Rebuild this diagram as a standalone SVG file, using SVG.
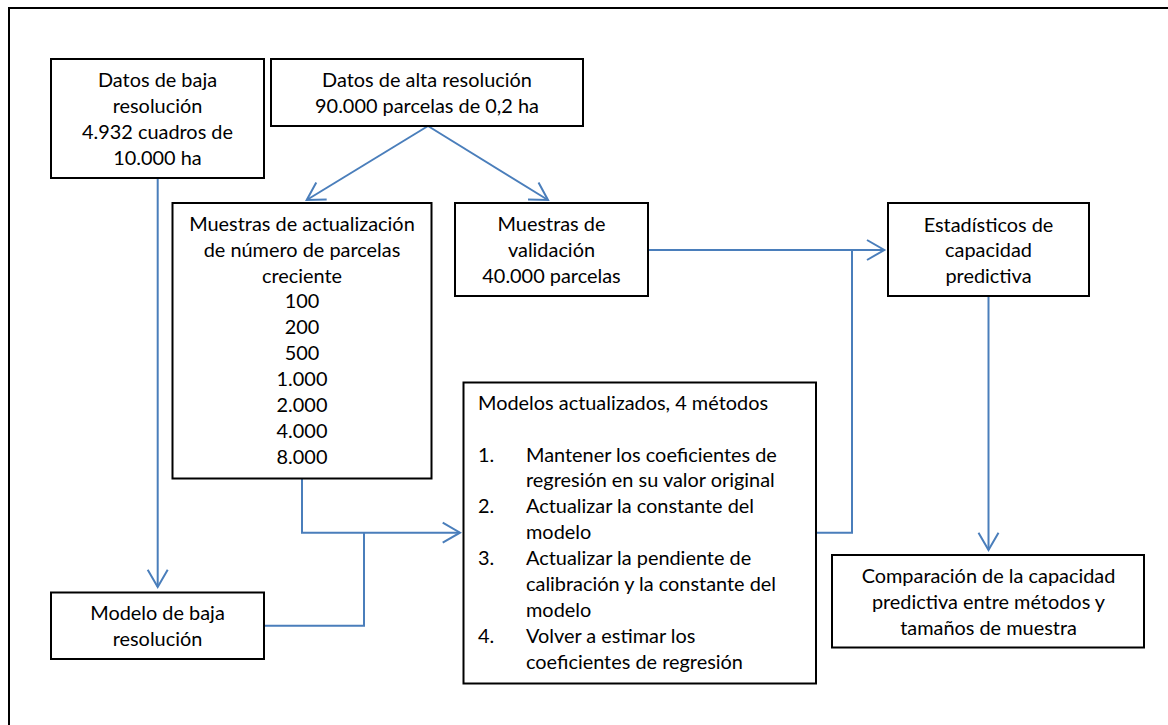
<svg xmlns="http://www.w3.org/2000/svg" width="1168" height="725" viewBox="0 0 1168 725">
<defs>
<style>
.box{fill:#ffffff;stroke:#000000;stroke-width:2}
.t{font-family:Lato,"Liberation Sans",sans-serif;font-size:19.9px;fill:#000000}
.c{text-anchor:middle}
.ln{fill:none;stroke:#4a7ebb;stroke-width:2}
</style>
<marker id="ah" markerWidth="24" markerHeight="24" viewBox="-20 -12 24 24" refX="0" refY="0" orient="auto" markerUnits="userSpaceOnUse">
<path d="M-17.3,-10 L0,0 L-17.3,10" fill="none" stroke="#4a7ebb" stroke-width="2"/>
</marker>
</defs>
<rect x="0" y="0" width="1168" height="725" fill="#ffffff"/>
<rect id="frame" x="9" y="8" width="1200" height="760" fill="none" stroke="#000000" stroke-width="2"/>

<g id="connectors">
<path class="ln" d="M428,126 L306.7,200" marker-end="url(#ah)"/>
<path class="ln" d="M428,126 L548,200" marker-end="url(#ah)"/>
<path class="ln" d="M157.7,178 L157.7,587" marker-end="url(#ah)"/>
<path class="ln" d="M302,478 L302,532.7 L460,532.7" marker-end="url(#ah)"/>
<path class="ln" d="M264,625.7 L364,625.7 L364,532.7"/>
<path class="ln" d="M648,250 L884.3,250" marker-end="url(#ah)"/>
<path class="ln" d="M816,532.7 L852,532.7 L852,250"/>
<path class="ln" d="M988.5,296 L988.5,550" marker-end="url(#ah)"/>
</g>

<g id="n-baja">
<rect class="box" x="51" y="59" width="213" height="119"/>
<text class="t c" x="157.5" y="87.3">Datos de baja</text>
<text class="t c" x="157.5" y="112.9">resolución</text>
<text class="t c" x="157.5" y="138.5">4.932 cuadros de</text>
<text class="t c" x="157.5" y="164.5">10.000 ha</text>
</g>

<g id="n-alta">
<rect class="box" x="271" y="59" width="312" height="67"/>
<text class="t c" x="427" y="87.3">Datos de alta resolución</text>
<text class="t c" x="427" y="112.9">90.000 parcelas de 0,2 ha</text>
</g>

<g id="n-actualizacion">
<rect class="box" x="172.5" y="203" width="259" height="275.5"/>
<text class="t c" x="302" y="231">Muestras de actualización</text>
<text class="t c" x="302" y="256.8">de número de parcelas</text>
<text class="t c" x="302" y="282.6">creciente</text>
<text class="t c" x="302" y="308.4">100</text>
<text class="t c" x="302" y="334.2">200</text>
<text class="t c" x="302" y="360">500</text>
<text class="t c" x="302" y="385.8">1.000</text>
<text class="t c" x="302" y="411.6">2.000</text>
<text class="t c" x="302" y="438.4">4.000</text>
<text class="t c" x="302" y="464.2">8.000</text>
</g>

<g id="n-validacion">
<rect class="box" x="455" y="203" width="193" height="93"/>
<text class="t c" x="551.5" y="231">Muestras de</text>
<text class="t c" x="551.5" y="256.8">validación</text>
<text class="t c" x="551.5" y="282.6">40.000 parcelas</text>
</g>

<g id="n-estadisticos">
<rect class="box" x="888" y="203" width="201" height="93"/>
<text class="t c" x="988.5" y="231.5">Estadísticos de</text>
<text class="t c" x="988.5" y="257.3">capacidad</text>
<text class="t c" x="988.5" y="283">predictiva</text>
</g>

<g id="n-modelos">
<rect class="box" x="463.5" y="382.5" width="352.5" height="301"/>
<text class="t" x="478" y="410">Modelos actualizados, 4 métodos</text>
<text class="t" x="478" y="461.7">1.</text>
<text class="t" x="526" y="461.7">Mantener los coeficientes de</text>
<text class="t" x="526" y="487.4">regresión en su valor original</text>
<text class="t" x="478" y="513.3">2.</text>
<text class="t" x="526" y="513.3">Actualizar la constante del</text>
<text class="t" x="526" y="539">modelo</text>
<text class="t" x="478" y="565">3.</text>
<text class="t" x="526" y="565">Actualizar la pendiente de</text>
<text class="t" x="526" y="590.7">calibración y la constante del</text>
<text class="t" x="526" y="616.7">modelo</text>
<text class="t" x="478" y="643.3">4.</text>
<text class="t" x="526" y="643.3">Volver a estimar los</text>
<text class="t" x="526" y="669">coeficientes de regresión</text>
</g>

<g id="n-modelo-baja">
<rect class="box" x="51" y="592.5" width="213" height="66.5"/>
<text class="t c" x="157.5" y="620">Modelo de baja</text>
<text class="t c" x="157.5" y="646">resolución</text>
</g>

<g id="n-comparacion">
<rect class="box" x="832" y="555" width="312" height="92.5"/>
<text class="t c" x="988.5" y="583.3">Comparación de la capacidad</text>
<text class="t c" x="988.5" y="609.2">predictiva entre métodos y</text>
<text class="t c" x="988.5" y="635">tamaños de muestra</text>
</g>
</svg>
